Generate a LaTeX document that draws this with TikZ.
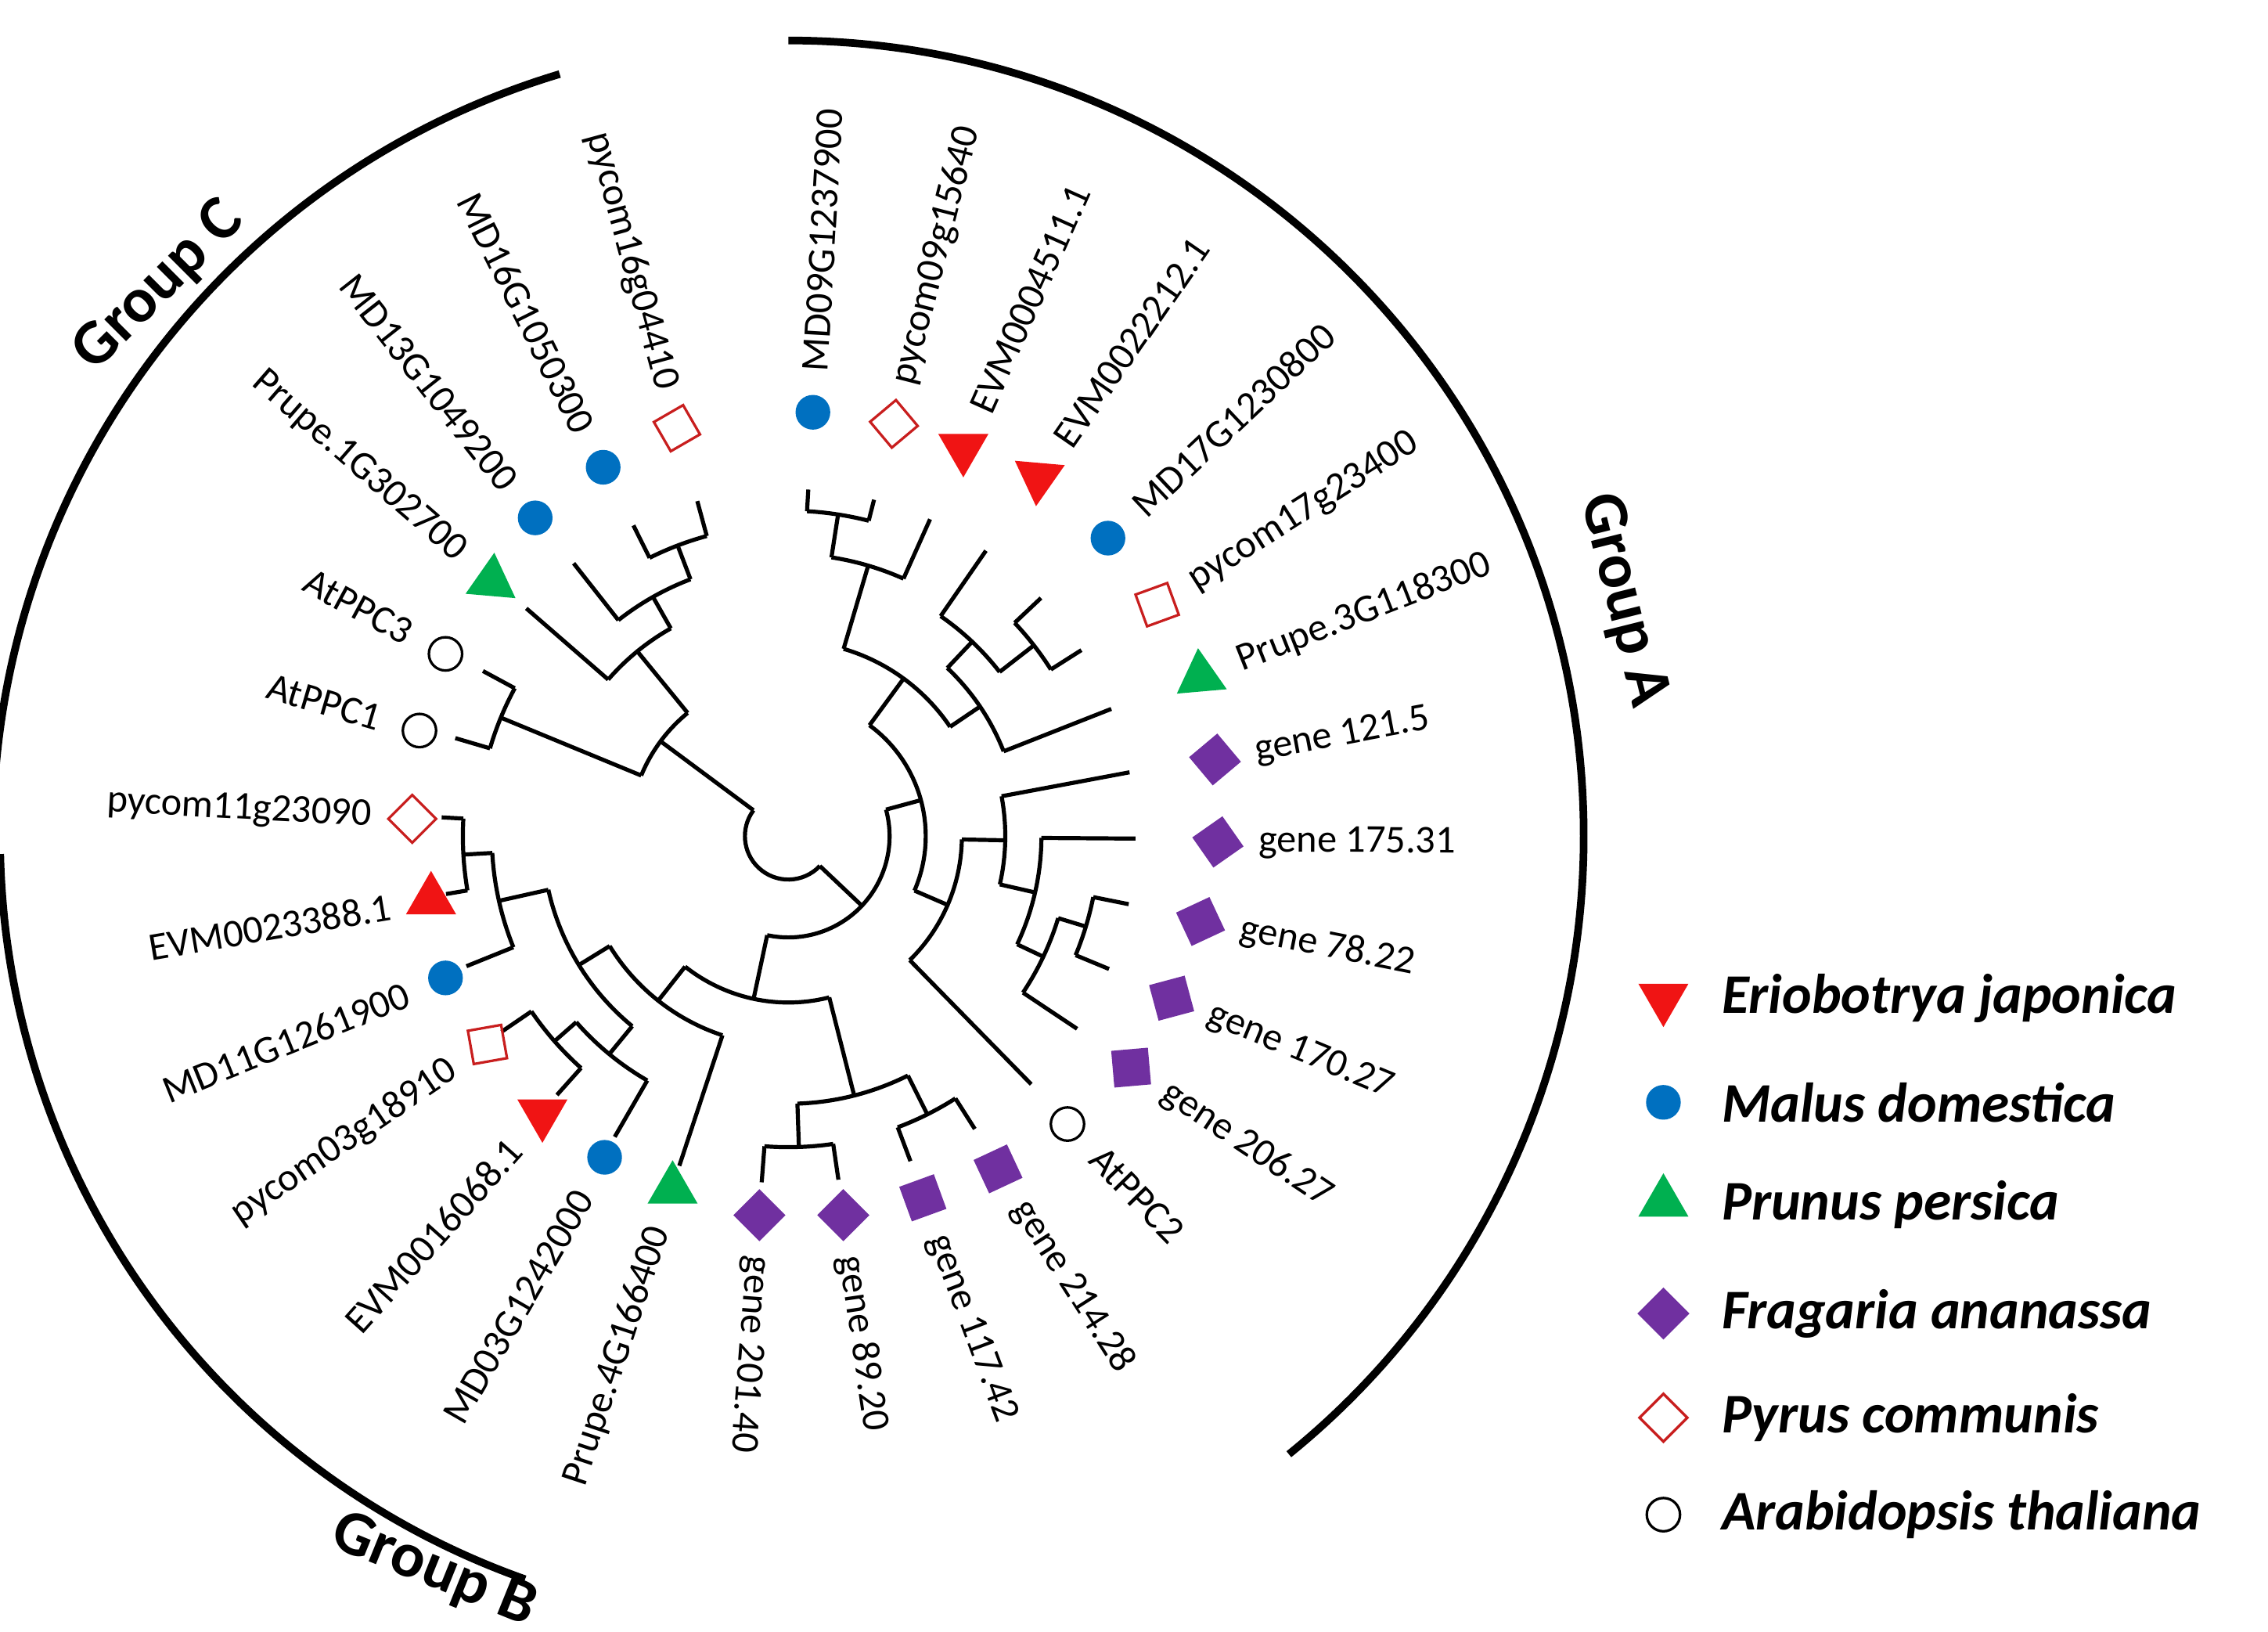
\documentclass[tikz,border=0pt]{standalone}
\usepackage{fontspec}
\setmainfont{Carlito}
\usetikzlibrary{shapes.geometric,calc}
\definecolor{cred}{RGB}{240,20,20}
\definecolor{cblue}{RGB}{0,112,192}
\definecolor{cgreen}{RGB}{0,176,80}
\definecolor{cpurp}{RGB}{112,48,160}
\definecolor{cored}{RGB}{200,30,30}
\tikzset{
 br/.style={line width=1.6pt,black},
 grp/.style={line width=3pt,black},
 lab/.style={font=\fontsize{15.5}{19}\selectfont,inner sep=0pt},
 leg/.style={font=\fontsize{22}{26}\selectfont\bfseries\itshape,anchor=west,inner sep=0pt},
 glab/.style={font=\fontsize{25}{30}\selectfont\bfseries,inner sep=0pt},
 cB/.style={circle,fill=cblue,draw=none,minimum size=0.48cm,inner sep=0pt},
 cO/.style={circle,draw=black,line width=1pt,minimum size=0.46cm,inner sep=0pt},
 tR/.style={regular polygon,regular polygon sides=3,fill=cred,draw=none,minimum size=0.8cm,inner sep=0pt},
 tG/.style={regular polygon,regular polygon sides=3,fill=cgreen,draw=none,minimum size=0.8cm,inner sep=0pt},
 dP/.style={regular polygon,regular polygon sides=4,fill=cpurp,draw=none,minimum size=0.72cm,inner sep=0pt},
 sR/.style={regular polygon,regular polygon sides=4,draw=cored,line width=1pt,minimum size=0.66cm,inner sep=0pt},
}
\newcommand\clade[5]{\draw[br] (#2:#1) arc[start angle=#2,end angle=#4,radius=#1*0.02cm];
 \draw[br] (#2:#1) -- (#2:#3); \draw[br] (#4:#1) -- (#4:#5);}
\begin{document}
\begin{tikzpicture}[x=0.02cm,y=0.02cm]
\useasboundingbox (0,0) rectangle (1568,1128);
% tree
\begin{scope}[shift={(545,550)}]
\clade{225}{86.7}{240}{75.7}{240}
\clade{195}{81.2}{225}{65.9}{240}
\clade{215}{43.3}{240}{32.4}{240}
\clade{185}{55.3}{240}{37.85}{215}
\clade{160}{46.6}{185}{21.5}{240}
\clade{135}{73.55}{195}{34.05}{160}
\clade{215}{-11.3}{240}{-22.5}{240}
\clade{195}{-16.9}{215}{-33.7}{240}
\clade{175}{-0.4}{240}{-25.3}{195}
\clade{150}{10.6}{240}{-12.85}{175}
\clade{120}{-1.1}{150}{-45.6}{240}
\clade{95}{53.8}{135}{-23.35}{120}
\clade{215}{-81.7}{240}{-94.4}{240}
\clade{215}{-57.5}{240}{-69.4}{240}
\clade{185}{-88.05}{215}{-63.45}{215}
\clade{225}{-170.4}{240}{-183.1}{240}
\clade{205}{-176.75}{225}{-158}{240}
\clade{215}{-131.8}{240}{-145.7}{240}
\clade{195}{-120}{240}{-138.75}{215}
\clade{170}{-167.4}{205}{-129.4}{195}
\clade{145}{-148.4}{170}{-108.3}{240}
\clade{115}{-128.35}{145}{-75.75}{185}
\clade{70}{15.2}{95}{-102.05}{115}
\clade{215}{-196.4}{240}{-208.4}{240}
\clade{215}{-243.5}{240}{-254.8}{240}
\clade{190}{-231.8}{240}{-249.15}{215}
\clade{165}{-221}{240}{-240.5}{190}
\clade{110}{-230.75}{165}{-202.4}{215}
\clade{30}{-43.4}{70}{-216.6}{110}
% group arcs
\draw[grp] (90:550) arc[start angle=90,end angle=-51,radius=11cm];
\draw[grp] (106.7:550) arc[start angle=106.7,end angle=178,radius=11cm];
\draw[grp] (-178.7:545) arc[start angle=-178.7,end angle=-109.5,radius=10.9cm];
\end{scope}
\foreach \i/\x/\y/\a/\s/\r/\t in {
 1/562/285/86.7/cB/0/MD09G1237900,
 2/618/293/75.7/sR/40/pycom09g15640,
 3/666/310/65.9/tR/180/EVM0004511.1,
 4/718/330/55.3/tR/175/EVM0022212.1,
 5/766/372/43.3/cB/0/MD17G1230800,
 6/800/418/32.4/sR/20/pycom17g23400,
 7/830/468/21.5/tG/5/Prupe.3G118300,
 8/840/525/10.6/dP/40/gene 121.5,
 9/842/582/-0.4/dP/35/gene 175.31,
 10/830/637/-11.3/dP/25/gene 78.22,
 11/810/690/-22.5/dP/15/gene 170.27,
 12/782/738/-33.7/dP/5/gene 206.27,
 13/738/777/-45.6/cO/0/AtPPC2,
 14/690/808/-57.5/dP/25/gene 214.28,
 15/638/828/-69.4/dP/20/gene 117.42,
 16/583/840/-81.7/dP/45/gene 89.20,
 17/525/840/-94.4/dP/45/gene 201.40}
{\node[\s,rotate=\r] (l\i) at (\x,1128-\y) {};
 \node[lab,anchor=west,rotate=\a] (t\i) at ($(\x,1128-\y)+(\a:28)$) {\t};}
\foreach \i/\x/\y/\a/\s/\r/\t in {
 18/465/822/-108.3/tG/0/Prupe.4G166400,
 19/418/800/-120/cB/0/MD03G1242000,
 20/375/770/-131.8/tR/180/EVM0016068.1,
 21/337/722/-145.7/sR/10/pycom03g18910,
 22/308/676/-158/cB/0/MD11G1261900,
 23/298/622/-170.4/tR/0/EVM0023388.1,
 24/285/566/176.9/sR/45/pycom11g23090,
 25/290/505/163.6/cO/0/AtPPC1,
 26/308/452/151.6/cO/0/AtPPC3,
 27/340/402/139/tG/-5/Prupe.1G302700,
 28/370/358/128.2/cB/0/MD13G1049200,
 29/417/323/116.5/cB/0/MD16G1050300,
 30/468/296/105.2/sR/30/pycom16g04410}
{\node[\s,rotate=\r] (l\i) at (\x,1128-\y) {};
 \node[lab,anchor=east,rotate=\a+180] (t\i) at ($(\x,1128-\y)+(\a:28)$) {\t};}
% group labels
\node[glab,rotate=-76] (gA) at (1122,713) {Group A};
\node[glab,rotate=45] (gC) at (110,930) {Group C};
\node[glab,rotate=-22] (gB) at (300,42) {Group B};
% legend
\node[tR,rotate=180] (s1) at (1150,438) {}; \node[leg] (e1) at (1190,438) {Eriobotrya japonica};
\node[cB] (s2) at (1150,366) {}; \node[leg] (e2) at (1190,366) {Malus domestica};
\node[tG] (s3) at (1150,297) {}; \node[leg] (e3) at (1190,295) {Prunus persica};
\node[dP,rotate=45] (s4) at (1150,220) {}; \node[leg] (e4) at (1190,220) {Fragaria ananassa};
\node[sR,rotate=45] (s5) at (1150,148) {}; \node[leg] (e5) at (1190,148) {Pyrus communis};
\node[cO] (s6) at (1150,81) {}; \node[leg] (e6) at (1190,81) {Arabidopsis thaliana};
\end{tikzpicture}
\end{document}
